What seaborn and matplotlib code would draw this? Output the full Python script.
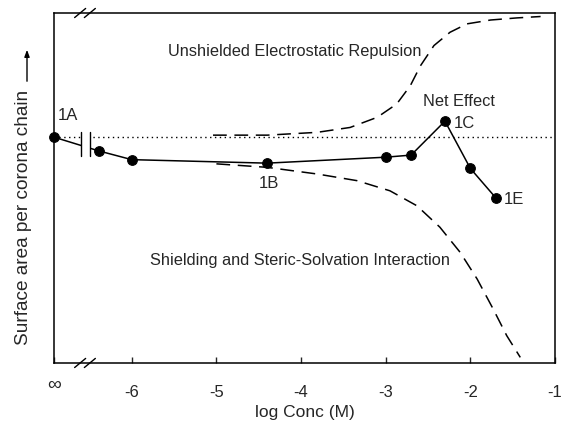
import numpy as np
import pandas as pd
import matplotlib
matplotlib.use("Agg")
import matplotlib.pyplot as plt
import matplotlib.transforms as mtransforms
import seaborn as sns

# ---- data ----
net_x = [-6.915, -6.39, -6.0, -4.4, -3.0, -2.7, -2.3, -2.0, -1.7]
net_y = [6.45, 6.06, 5.81, 5.71, 5.88, 5.94, 6.91, 5.56, 4.72]

rep_x = [-5.04, -4.40, -3.81, -3.42, -3.10, -2.87, -2.71, -2.59, -2.43, -2.24, -2.04, -1.76, -1.45, -1.17]
rep_y = [6.51, 6.51, 6.59, 6.73, 7.02, 7.40, 7.92, 8.49, 9.07, 9.45, 9.69, 9.80, 9.86, 9.90]

shd_x = [-5.00, -4.40, -3.81, -3.34, -2.95, -2.63, -2.36, -2.12, -1.92, -1.73, -1.57, -1.41]
shd_y = [5.69, 5.59, 5.40, 5.21, 4.92, 4.49, 3.88, 3.16, 2.40, 1.54, 0.78, 0.16]

ref_level = 6.45
tick_pos = [-6.915, -6, -5, -4, -3, -2, -1]
tick_lab = ["\u221e", "-6", "-5", "-4", "-3", "-2", "-1"]

sns.set_theme(style="ticks")
plt.rcParams['font.family'] = ['Liberation Sans', 'DejaVu Sans']

fig = plt.figure(figsize=(5.61, 4.31), dpi=100)
ax = fig.add_axes([0.0968, 0.1555, 0.8925, 0.812])

net = pd.DataFrame({"x": net_x, "y": net_y})
rep = pd.DataFrame({"x": rep_x, "y": rep_y})
shd = pd.DataFrame({"x": shd_x, "y": shd_y})

ax.axhline(ref_level, color="black", lw=1.0, ls=(0, (1, 2.5)), zorder=1)
sns.lineplot(data=rep, x="x", y="y", ax=ax, color="black", lw=1.1,
             linestyle=(0, (9, 5)), sort=False, zorder=2)
sns.lineplot(data=shd, x="x", y="y", ax=ax, color="black", lw=1.1,
             linestyle=(0, (9, 5)), sort=False, zorder=2)
sns.lineplot(data=net, x="x", y="y", ax=ax, color="black", lw=1.1,
             marker="o", markersize=7, markeredgecolor="black",
             sort=False, zorder=4, clip_on=False)

# axis break on the curve
ax.fill_between([-6.60, -6.49], 5.90, 6.60, color="white", zorder=4.5, lw=0)
for bx in (-6.60, -6.49):
    ax.plot([bx, bx], [5.90, 6.60], color="black", lw=1.0, zorder=5)

ax.set_xlim(-6.915, -1.0)
ax.set_ylim(0, 10)
ax.set_xticks(tick_pos)
ax.set_xticklabels(tick_lab)
ax.set_yticks([])
ax.tick_params(axis="x", direction="in", length=4, width=1, labelsize=12, pad=15)
for lbl in ax.get_xticklabels():
    if lbl.get_text() == "\u221e":
        lbl.set_fontsize(14)
        lbl.set_y(0.022)
for s in ax.spines.values():
    s.set_linewidth(1.1)
    s.set_color("black")

# spine break marks (top and bottom)
btr = mtransforms.blended_transform_factory(ax.transData, ax.transAxes)
for yb in (0.0, 1.0):
    for dx in (0.0, 0.115):
        x0 = -6.61 + dx
        ax.plot([x0 - 0.065, x0 + 0.065], [yb - 0.013, yb + 0.013], color="black",
                lw=1.0, clip_on=False, zorder=6, transform=btr)

ax.set_xlabel("log Conc (M)", fontsize=12.5, labelpad=4)
ax.set_ylabel("")

# annotations
ax.text(-6.87, 7.09, "1A", fontsize=12, ha="left", va="center")
ax.text(-4.38, 5.17, "1B", fontsize=12, ha="center", va="center")
ax.text(-2.20, 6.88, "1C", fontsize=12, ha="left", va="center")
ax.text(-1.60, 4.71, "1E", fontsize=12, ha="left", va="center")
ax.text(-2.14, 7.51, "Net Effect", fontsize=11.8, ha="center", va="center")
ax.text(-4.08, 8.92, "Unshielded Electrostatic Repulsion", fontsize=11.8, ha="center", va="center")
ax.text(-4.01, 2.97, "Shielding and Steric-Solvation Interaction", fontsize=11.8, ha="center", va="center")

# y label with arrow
fig.text(24 / 561, 1 - 217 / 431, "Surface area per corona chain", rotation=90,
         fontsize=13.7, ha="center", va="center")
fig.add_artist(matplotlib.patches.FancyArrowPatch(
    (27 / 561, 1 - 85 / 431), (27 / 561, 1 - 48 / 431),
    transform=fig.transFigure, arrowstyle="-|>,head_length=4,head_width=1.5",
    color="black", lw=1.0, mutation_scale=1))

fig.savefig("out.png", dpi=100)
